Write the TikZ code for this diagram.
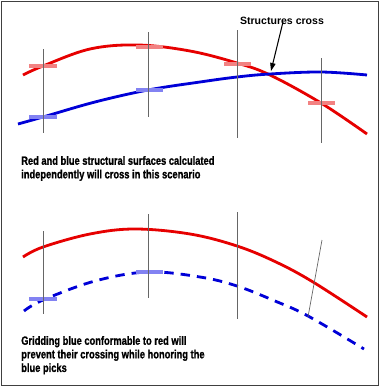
\documentclass[tikz,border=0pt]{standalone}
\usepackage{fontspec}
\usepackage{graphicx}
\setmainfont{Liberation Sans}
\newfontfamily\capfont[FakeBold=1.2]{Liberation Sans Bold}
\usetikzlibrary{arrows.meta,positioning}

\definecolor{surfred}{RGB}{230,0,0}
\definecolor{surfblue}{RGB}{0,0,215}
\definecolor{pickred}{RGB}{242,130,130}
\definecolor{pickblue}{RGB}{130,130,242}

% narrow bold caption text
\newcommand{\narrowtext}[1]{\scalebox{0.78}[1]{\begin{tabular}{@{}l@{}}#1\end{tabular}}}

\begin{document}
\begin{tikzpicture}[x=0.03cm, y=-0.03cm,
    well/.style={draw=black!60, line width=0.6pt},
    redsurf/.style={draw=surfred, line width=2.4pt},
    bluesurf/.style={draw=surfblue, line width=2.4pt},
    pick/.style={rectangle, inner sep=0pt, minimum width=0.81cm, minimum height=0.14cm},
    redpick/.style={pick, fill=pickred},
    bluepick/.style={pick, fill=pickblue},
    label/.style={inner sep=0pt, font=\fontsize{9}{11}\selectfont\bfseries},
    caption/.style={anchor=north west, inner sep=0pt,
        font=\capfont\fontsize{10.2}{11.6}\selectfont},
    arrow/.style={-{Triangle[length=2.4mm, width=1.6mm]}, line width=0.9pt}
]

\useasboundingbox (0,0) rectangle (381,388);

% Frame
\draw[black!75, line width=0.8pt] (1.5,1.5) rectangle (378,385.5);

% Top panel: surfaces calculated independently
\draw[redsurf] plot[smooth, tension=0.6] coordinates
    {(23,75) (43,66) (90,49) (138,45) (190,51) (237,63) (270,75) (321,103) (367,134)};
\draw[bluesurf] plot[smooth, tension=0.6] coordinates
    {(18,124) (43,117) (95,102) (148,90) (200,82) (237,77) (270,74) (321,72) (367,75)};

% Picks (top)
\node[redpick] (rp1) at (43,66) {};
\node[redpick] (rp2) at (149,47) {};
\node[redpick] (rp3) at (237,64) {};
\node[redpick] (rp4) at (321,103) {};
\node[bluepick] (bp1) at (43,117) {};
\node[bluepick] (bp2) at (149,90) {};

% Wells (top)
\coordinate (w1t) at (43,49);   \coordinate (w1b) at (43,133);
\coordinate (w2t) at (148,32);  \coordinate (w2b) at (148,117);
\coordinate (w3t) at (237,30);  \coordinate (w3b) at (237,138);
\coordinate (w4t) at (321,58);  \coordinate (w4b) at (321,143);
\draw[well] (w1t) -- (w1b);
\draw[well] (w2t) -- (w2b);
\draw[well] (w3t) -- (w3b);
\draw[well] (w4t) -- (w4b);

% Crossing annotation
\coordinate (cross) at (271,71);
\node[label] (crosslbl) at (282,21) {Structures cross};
\draw[arrow] (crosslbl.south) ++(1,-3) -- (cross);

\node[caption] (cap1) at (21,155)
    {\narrowtext{Red and blue structural surfaces calculated\\independently will cross in this scenario}};

% Bottom panel: blue gridded conformable to red
\draw[redsurf] plot[smooth, tension=0.6] coordinates
    {(23,257) (43,247) (90,234) (135,229) (190,234) (237,246) (276,262) (313,282) (367,317)};
\draw[bluesurf, dash pattern=on 8pt off 6pt] plot[smooth, tension=0.6] coordinates
    {(24,311) (43,300) (95,281) (148,272) (200,277) (237,286) (275,301) (308,316) (364,349)};

% Picks (bottom)
\node[bluepick] (bp3) at (43,299) {};
\node[bluepick] (bp4) at (149,272) {};

% Wells (bottom)
\coordinate (w5t) at (43,231);  \coordinate (w5b) at (43,314);
\coordinate (w6t) at (148,214); \coordinate (w6b) at (148,298);
\coordinate (w7t) at (237,212); \coordinate (w7b) at (237,319);
\coordinate (w8t) at (322,240); \coordinate (w8b) at (308,317);
\draw[well] (w5t) -- (w5b);
\draw[well] (w6t) -- (w6b);
\draw[well] (w7t) -- (w7b);
\draw[well] (w8t) -- (w8b);

\node[caption] (cap2) at (21,335)
    {\narrowtext{Gridding blue conformable to red will\\prevent their crossing while honoring the\\blue picks}};

\end{tikzpicture}
\end{document}
